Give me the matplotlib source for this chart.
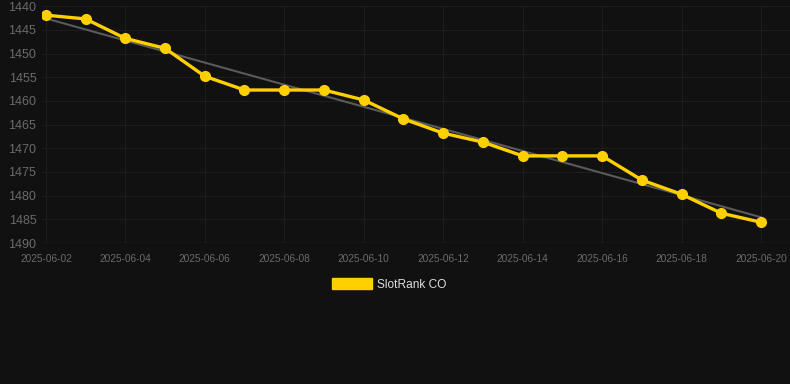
import numpy as np
import matplotlib.pyplot as plt

plt.rcParams['font.family'] = ['Liberation Sans', 'DejaVu Sans']

# data
dates = ['2025-06-02', '2025-06-03', '2025-06-04', '2025-06-05', '2025-06-06',
         '2025-06-07', '2025-06-08', '2025-06-09', '2025-06-10', '2025-06-11',
         '2025-06-12', '2025-06-13', '2025-06-14', '2025-06-15', '2025-06-16',
         '2025-06-17', '2025-06-18', '2025-06-19', '2025-06-20']
rank = [1441.9, 1442.7, 1446.8, 1448.9, 1454.8, 1457.7, 1457.7, 1457.7, 1459.8, 1463.8,
        1466.8, 1468.7, 1471.6, 1471.6, 1471.6, 1476.7, 1479.7, 1483.7, 1485.6]
yticks = [1440, 1445, 1450, 1455, 1460, 1465, 1470, 1475, 1480, 1485, 1490]

x = np.arange(len(dates))
slope, icpt = np.polyfit(x, rank, 1)
trend = slope * x + icpt

bg = '#111111'
fig = plt.figure(figsize=(7.9, 3.84), dpi=100, facecolor=bg)
ax = fig.add_axes([0.053, 0.367, 0.947, 0.617], facecolor=bg)

ax.plot(x, trend, color='#5a5a5a', lw=1.5, zorder=2)
ax.plot(x, rank, color='#ffd000', lw=2.4, marker='o', ms=7, zorder=3, label='SlotRank CO')

ax.set_xlim(-0.1, 18.73)
ax.set_ylim(1490, 1440)
ax.set_yticks(yticks)
ax.set_xticks(x[::2])
ax.set_xticklabels(dates[::2])
ax.tick_params(colors='#6a6a6a', labelsize=7.3, length=0, pad=4)
ax.tick_params(axis='y', labelsize=9, labelcolor='#6a6a6a')
ax.tick_params(axis='x', pad=8)
ax.grid(True, color='#1d1d1d', lw=0.8)
for s in ax.spines.values():
    s.set_visible(False)
ax.axhline(1490, color='#2a2a2a', lw=1)

h = plt.Rectangle((0, 0), 1, 1, color='#ffd000')
fig.legend([h], ['SlotRank CO'], loc='center', bbox_to_anchor=(0.493, 0.26),
           frameon=False, labelcolor='#dddddd', fontsize=8.6,
           handlelength=3.3, handleheight=1.1, handletextpad=0.5)

fig.savefig('out.png', dpi=100, facecolor=bg)
